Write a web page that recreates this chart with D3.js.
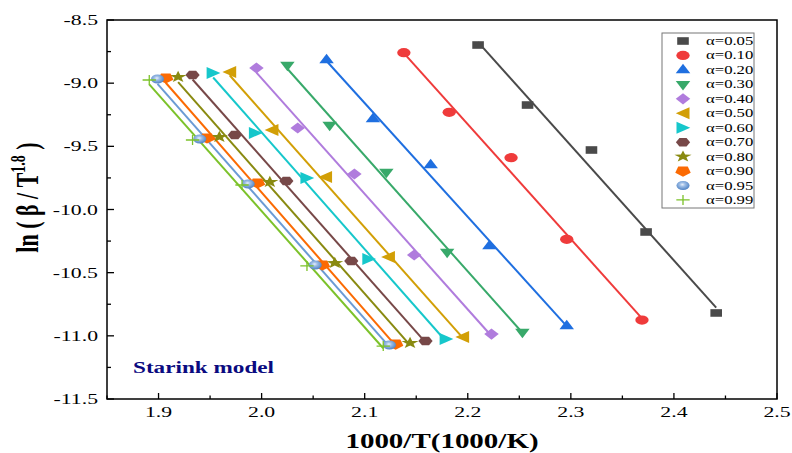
<!DOCTYPE html>
<html>
<head>
<meta charset="utf-8">
<script src="https://cdn.jsdelivr.net/npm/d3@7"></script>
<style>
  body { margin: 0; background: #fff; }
  text { font-family: "Liberation Serif", "Times New Roman", serif; }
</style>
</head>
<body>
<div id="chart"></div>
<script>
// values: x = 1000/T, y = ln(beta/T^1.8)
const alphaLabels = ["α=0.05", "α=0.10", "α=0.20", "α=0.30", "α=0.40", "α=0.50",
                     "α=0.60", "α=0.70", "α=0.80", "α=0.90", "α=0.95", "α=0.99"];

const x005 = [2.210, 2.258, 2.320, 2.373, 2.441];
const y005 = [-8.698, -9.173, -9.529, -10.178, -10.819];
const x010 = [2.138, 2.182, 2.242, 2.296, 2.369];
const y010 = [-8.759, -9.231, -9.590, -10.236, -10.875];
const x020 = [2.063, 2.108, 2.164, 2.221, 2.296];
const y020 = [-8.817, -9.284, -9.648, -10.289, -10.922];
const x030 = [2.025, 2.066, 2.121, 2.180, 2.253];
const y030 = [-8.856, -9.331, -9.703, -10.336, -10.970];
const x040 = [1.995, 2.035, 2.090, 2.148, 2.223];
const y040 = [-8.880, -9.355, -9.719, -10.360, -10.986];
const x050 = [1.969, 2.010, 2.062, 2.123, 2.195];
const y050 = [-8.912, -9.371, -9.743, -10.376, -11.009];
const x060 = [1.953, 1.994, 2.044, 2.104, 2.179];
const y060 = [-8.920, -9.394, -9.751, -10.392, -11.025];
const x070 = [1.933, 1.974, 2.024, 2.087, 2.159];
const y070 = [-8.935, -9.410, -9.774, -10.408, -11.041];
const x080 = [1.919, 1.959, 2.008, 2.071, 2.144];
const y080 = [-8.951, -9.426, -9.782, -10.424, -11.057];
const x090 = [1.907, 1.947, 1.996, 2.059, 2.130];
const y090 = [-8.959, -9.434, -9.790, -10.439, -11.065];
const x095 = [1.899, 1.940, 1.987, 2.052, 2.124];
const y095 = [-8.967, -9.442, -9.798, -10.439, -11.073];
const x099 = [1.891, 1.933, 1.981, 2.044, 2.118];
const y099 = [-8.975, -9.450, -9.806, -10.447, -11.081];

const xTicks = [1.9, 2.0, 2.1, 2.2, 2.3, 2.4, 2.5];
const yTicks = [-8.5, -9.0, -9.5, -10.0, -10.5, -11.0, -11.5];

const xs = [x005, x010, x020, x030, x040, x050, x060, x070, x080, x090, x095, x099];
const ys = [y005, y010, y020, y030, y040, y050, y060, y070, y080, y090, y095, y099];

const colors = ["#4a4a4a", "#ef3b3b", "#1f6fe0", "#38a96a", "#b07cdd", "#d29f06",
                "#16c7cb", "#774848", "#898a10", "#fb6a03", "#6b9bd5", "#7cc22a"];
const shapes = ["square", "circle", "triUp", "triDown", "diamond", "triLeft",
                "triRight", "hexagon", "star", "pentagon", "ball", "plus"];

// the original picture is stretched sideways, so glyphs and markers are too
const sx = 1.45;

const margin = { top: 20, right: 15, bottom: 54, left: 107 };
const W = 792, H = 453;
const width = W - margin.left - margin.right;
const height = H - margin.top - margin.bottom;

const svg = d3.select("#chart").append("svg")
    .attr("width", W)
    .attr("height", H);

const defs = svg.append("defs");
const grad = defs.append("radialGradient")
    .attr("id", "ball")
    .attr("cx", "45%").attr("cy", "40%").attr("r", "60%");
grad.append("stop").attr("offset", "0%").attr("stop-color", "#e8f0fb");
grad.append("stop").attr("offset", "35%").attr("stop-color", "#9dbde6");
grad.append("stop").attr("offset", "100%").attr("stop-color", "#4f82c4");

const g = svg.append("g")
    .attr("transform", `translate(${margin.left},${margin.top})`);

const x = d3.scaleLinear().domain([1.85, 2.5]).range([0, width]);
const y = d3.scaleLinear().domain([-11.5, -8.5]).range([height, 0]);

// marker outlines, drawn around 0,0
function poly(n, r, rot) {
    const p = d3.path();
    for (let i = 0; i < n; i++) {
        const a = rot + i * 2 * Math.PI / n;
        const px = r * Math.cos(a), py = r * Math.sin(a);
        if (i === 0) p.moveTo(px, py); else p.lineTo(px, py);
    }
    p.closePath();
    return p.toString();
}
function markerPath(kind) {
    switch (kind) {
        case "square": return "M-4,-3.8H4V3.8H-4Z";
        case "circle": return d3.symbol(d3.symbolCircle, Math.PI * 4.6 * 4.6)();
        case "triUp": return "M0,-6.2L5,3.3L-5,3.3Z";
        case "triDown": return "M0,6.2L5,-3.3L-5,-3.3Z";
        case "triLeft": return "M-5,0L4.5,-6L4.5,6Z";
        case "triRight": return "M5,0L-4.5,-6L-4.5,6Z";
        case "diamond": return "M0,-5.6L5,0L0,5.6L-5,0Z";
        case "hexagon": return poly(6, 4.9, 0);
        case "pentagon": return poly(5, 5.6, Math.PI / 2);
        case "star": {
            const p = d3.path();
            for (let i = 0; i < 10; i++) {
                const r = i % 2 ? 2.5 : 6.2;
                const a = -Math.PI / 2 + i * Math.PI / 5;
                if (i === 0) p.moveTo(r * Math.cos(a), r * Math.sin(a));
                else p.lineTo(r * Math.cos(a), r * Math.sin(a));
            }
            p.closePath();
            return p.toString();
        }
        case "ball": return d3.symbol(d3.symbolCircle, Math.PI * 4.5 * 4.5)();
        case "plus": return "M-4.6,0H4.6M0,-5H0V5";
    }
}
function drawMarker(sel, kind, color, px, py) {
    const m = sel.append("path")
        .attr("d", markerPath(kind))
        .attr("transform", `translate(${px},${py}) scale(${sx},1)`);
    if (kind === "plus") {
        m.attr("fill", "none").attr("stroke", color).attr("stroke-width", 1.3)
            .attr("vector-effect", "non-scaling-stroke");
    } else if (kind === "ball") {
        m.attr("fill", "url(#ball)");
    } else {
        m.attr("fill", color);
    }
}

// least squares fit line over the range of each series
function fit(xv, yv) {
    const mx = d3.mean(xv), my = d3.mean(yv);
    const b = d3.sum(xv, (v, i) => (v - mx) * (yv[i] - my)) / d3.sum(xv, v => (v - mx) * (v - mx));
    const a = my - b * mx;
    const [x0, x1] = d3.extent(xv);
    return [[x0, a + b * x0], [x1, a + b * x1]];
}

const line = d3.line().x(d => x(d[0])).y(d => y(d[1]));

xs.forEach((xv, i) => {
    g.append("path")
        .datum(fit(xv, ys[i]))
        .attr("d", line)
        .attr("fill", "none")
        .attr("stroke", colors[i])
        .attr("stroke-width", 2);
});

xs.forEach((xv, i) => {
    const grp = g.append("g");
    xv.forEach((v, j) => drawMarker(grp, shapes[i], colors[i], x(v), y(ys[i][j])));
});

// frame and inward ticks
g.append("rect")
    .attr("width", width).attr("height", height)
    .attr("fill", "none").attr("stroke", "#000").attr("stroke-width", 1.5);

const xMinor = d3.range(1.85, 2.5, 0.1).map(v => +v.toFixed(2));
const yMinor = d3.range(-8.75, -11.5, -0.5).map(v => +v.toFixed(2));

g.selectAll(".xt").data(xTicks).enter().append("line")
    .attr("x1", d => x(d)).attr("x2", d => x(d))
    .attr("y1", height).attr("y2", height - 6)
    .attr("stroke", "#000").attr("stroke-width", 1.3);
g.selectAll(".xm").data(xMinor).enter().append("line")
    .attr("x1", d => x(d)).attr("x2", d => x(d))
    .attr("y1", height).attr("y2", height - 3.5)
    .attr("stroke", "#000").attr("stroke-width", 1.3);
g.selectAll(".yt").data(yTicks).enter().append("line")
    .attr("x1", 0).attr("x2", 7)
    .attr("y1", d => y(d)).attr("y2", d => y(d))
    .attr("stroke", "#000").attr("stroke-width", 1.3);
g.selectAll(".ym").data(yMinor).enter().append("line")
    .attr("x1", 0).attr("x2", 4)
    .attr("y1", d => y(d)).attr("y2", d => y(d))
    .attr("stroke", "#000").attr("stroke-width", 1.3);

// tick labels
g.selectAll(".xl").data(xTicks).enter().append("text")
    .attr("transform", d => `translate(${x(d)},${height + 18}) scale(${sx},1)`)
    .attr("text-anchor", "middle")
    .attr("font-size", 15)
    .text(d => d.toFixed(1));
g.selectAll(".yl").data(yTicks).enter().append("text")
    .attr("transform", d => `translate(-9,${y(d) + 5}) scale(${sx},1)`)
    .attr("text-anchor", "end")
    .attr("font-size", 15)
    .text(d => d.toFixed(1));

// axis titles
svg.append("text")
    .attr("transform", `translate(${margin.left + width / 2},${448}) scale(${sx},1)`)
    .attr("text-anchor", "middle")
    .attr("font-size", 20)
    .attr("font-weight", "bold")
    .text("1000/T(1000/K)");

const yt = svg.append("text")
    .attr("transform", `translate(38,${margin.top + height / 2 - 12}) scale(${sx},1) rotate(-90)`)
    .attr("text-anchor", "middle")
    .attr("font-size", 22)
    .attr("font-weight", "bold");
yt.append("tspan").text("ln ( β / T");
yt.append("tspan").attr("font-size", 14).attr("dy", -9).text("1.8");
yt.append("tspan").attr("dy", 9).text(" )");

// model label
g.append("text")
    .attr("transform", `translate(26,${height - 26}) scale(${sx},1)`)
    .attr("font-size", 16)
    .attr("font-weight", "bold")
    .attr("fill", "#0a0a80")
    .text("Starink model");

// legend
const lg = svg.append("g");
lg.append("rect")
    .attr("x", 662).attr("y", 33).attr("width", 92).attr("height", 175)
    .attr("fill", "#fff").attr("stroke", "#777").attr("stroke-width", 1);
alphaLabels.forEach((lab, i) => {
    const ly = 41 + i * 14.45;
    drawMarker(lg, shapes[i], colors[i], 683, ly);
    lg.append("text")
        .attr("transform", `translate(706,${ly + 4}) scale(${sx},1)`)
        .attr("font-size", 11.5)
        .text(lab);
});
</script>
</body>
</html>
